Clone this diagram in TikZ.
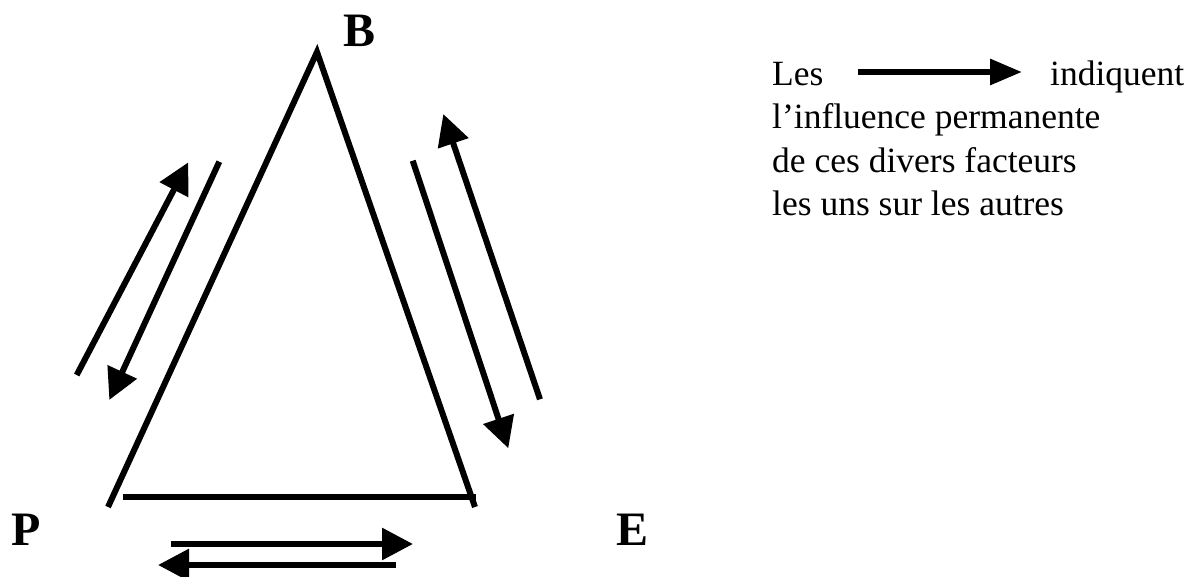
\documentclass[tikz,border=0pt]{standalone}
\usepackage{fontspec}
\setmainfont{Liberation Serif}
\usetikzlibrary{arrows.meta}
\tikzset{
  side/.style={line width=6pt},
  flow/.style={line width=6pt,-{Triangle[length=31pt,width=31pt]}},
  corner/.style={inner sep=0pt,font=\fontsize{48}{48}\selectfont\bfseries},
  legend/.style={inner sep=0pt,anchor=base west,font=\fontsize{35.5}{43}\selectfont}
}

\begin{document}
\begin{tikzpicture}[x=1pt,y=-1pt]
\useasboundingbox (0,0) rectangle (1190,577);
% corners of the triangle
\coordinate (top) at (317,52);
\coordinate (pl) at (108,507);
\coordinate (el) at (475,507);
\coordinate (b1) at (123,497);
\coordinate (b2) at (476,497);
\node[corner] (B) at (359.5,31) {B};
\node[corner] (P) at (26,530) {P};
\node[corner] (E) at (632,530) {E};
\draw[side,line join=miter] (pl) -- (top) -- (el);
\draw[side] (b1) -- (b2);
% arrows along P--B
\coordinate (pb1) at (76.7,375);
\coordinate (pb2) at (188.3,162.3);
\coordinate (bp1) at (219.3,161.7);
\coordinate (bp2) at (109.3,400);
\draw[flow] (pb1) -- (pb2);
\draw[flow] (bp1) -- (bp2);
% arrows along B--E
\coordinate (be1) at (412.7,160.7);
\coordinate (be2) at (508.3,448.3);
\coordinate (eb1) at (540,399.3);
\coordinate (eb2) at (443.3,114);
\draw[flow] (be1) -- (be2);
\draw[flow] (eb1) -- (eb2);
% arrows along P--E
\coordinate (pe1) at (171,544);
\coordinate (pe2) at (413,544);
\coordinate (ep1) at (396,565);
\coordinate (ep2) at (158,565);
\draw[flow] (pe1) -- (pe2);
\draw[flow] (ep1) -- (ep2);
% legend
\node[legend] (les) at (772,85.7) {Les};
\node[legend] (ind) at (1050,85.7) {indiquent};
\coordinate (k1) at (858,72);
\coordinate (k2) at (1022,72);
\draw[line width=6pt,-{Triangle[length=32pt,width=25pt]}] (k1) -- (k2);
\node[legend] (l2) at (772,129) {l’influence permanente};
\node[legend] (l3) at (772,172.3) {de ces divers facteurs};
\node[legend] (l4) at (772,215.6) {les uns sur les autres};
\end{tikzpicture}
\end{document}
